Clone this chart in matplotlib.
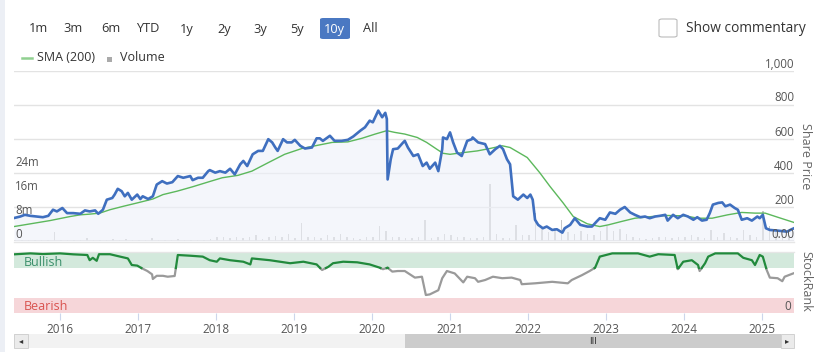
import numpy as np
import matplotlib
matplotlib.use("Agg")
import matplotlib.pyplot as plt
from matplotlib.patches import Rectangle, FancyBboxPatch
from matplotlib.lines import Line2D

plt.rcParams['font.family'] = ['Open Sans', 'DejaVu Sans']

# ---------------- data ----------------
price_years = [2015.41, 2015.49, 2015.55, 2015.62, 2015.70, 2015.78, 2015.85, 2015.91, 2015.96, 2016.03,
               2016.09, 2016.17, 2016.26, 2016.32, 2016.38, 2016.45, 2016.49, 2016.55, 2016.60, 2016.67,
               2016.70, 2016.74, 2016.79, 2016.83, 2016.87, 2016.92, 2016.99, 2017.03, 2017.06, 2017.13,
               2017.19, 2017.24, 2017.31, 2017.37, 2017.44, 2017.51, 2017.58, 2017.67, 2017.70, 2017.77,
               2017.83, 2017.90, 2017.92, 2017.99, 2018.05, 2018.12, 2018.18, 2018.24, 2018.31, 2018.35,
               2018.40, 2018.47, 2018.54, 2018.60, 2018.67, 2018.72, 2018.76, 2018.79, 2018.86, 2018.91,
               2018.97, 2019.01, 2019.08, 2019.14, 2019.23, 2019.29, 2019.33, 2019.37, 2019.46, 2019.52,
               2019.61, 2019.69, 2019.76, 2019.85, 2019.91, 2019.97, 2020.01, 2020.08, 2020.13, 2020.17,
               2020.19, 2020.20, 2020.24, 2020.27, 2020.33, 2020.40, 2020.42, 2020.46, 2020.53, 2020.59,
               2020.65, 2020.70, 2020.74, 2020.81, 2020.85, 2020.90, 2020.91, 2020.96, 2021.00, 2021.04,
               2021.09, 2021.15, 2021.22, 2021.28, 2021.29, 2021.36, 2021.45, 2021.51, 2021.58, 2021.64,
               2021.68, 2021.73, 2021.77, 2021.81, 2021.87, 2021.94, 2021.99, 2022.03, 2022.06, 2022.09,
               2022.13, 2022.19, 2022.24, 2022.31, 2022.37, 2022.44, 2022.47, 2022.54, 2022.60, 2022.67,
               2022.76, 2022.82, 2022.88, 2022.92, 2022.99, 2023.05, 2023.12, 2023.18, 2023.24, 2023.31,
               2023.37, 2023.44, 2023.50, 2023.56, 2023.63, 2023.69, 2023.76, 2023.79, 2023.86, 2023.92,
               2023.99, 2024.05, 2024.12, 2024.17, 2024.23, 2024.29, 2024.33, 2024.37, 2024.44, 2024.49,
               2024.53, 2024.59, 2024.65, 2024.69, 2024.74, 2024.81, 2024.87, 2024.94, 2024.97, 2025.01,
               2025.05, 2025.10, 2025.20, 2025.32, 2025.38, 2025.41]
price_values = [135, 144, 154, 148, 144, 140, 148, 184, 174, 194,
                164, 164, 160, 180, 174, 180, 160, 184, 243, 253,
                273, 307, 293, 263, 283, 243, 273, 247, 263, 247,
                263, 332, 352, 338, 346, 382, 372, 382, 358, 372,
                372, 411, 417, 402, 411, 402, 425, 392, 451, 471,
                441, 510, 530, 530, 599, 580, 550, 530, 599, 580,
                580, 595, 560, 544, 550, 604, 604, 589, 619, 589,
                589, 595, 615, 649, 669, 708, 698, 767, 728, 754,
                718, 362, 481, 540, 544, 580, 589, 550, 500, 510,
                441, 461, 425, 461, 411, 540, 609, 599, 639, 580,
                520, 500, 589, 599, 609, 580, 570, 510, 540, 560,
                540, 481, 451, 263, 243, 273, 253, 273, 243, 125,
                95, 75, 85, 65, 69, 49, 75, 95, 134, 95,
                85, 85, 115, 134, 125, 168, 160, 184, 200, 168,
                154, 140, 144, 134, 144, 148, 154, 120, 154, 134,
                154, 144, 125, 140, 120, 125, 164, 214, 224, 227,
                204, 214, 194, 184, 125, 134, 120, 144, 134, 154,
                75, 65, 61, 55, 69, 75]

sma_years = [2015.41, 2015.62, 2015.87, 2016.13, 2016.26, 2016.38, 2016.51, 2016.64, 2016.81, 2016.99,
             2017.19, 2017.32, 2017.50, 2017.70, 2017.92, 2018.08, 2018.28, 2018.46, 2018.67, 2018.88,
             2019.10, 2019.27, 2019.49, 2019.69, 2019.87, 2020.04, 2020.19, 2020.29, 2020.42, 2020.58,
             2020.70, 2020.83, 2020.91, 2021.00, 2021.17, 2021.35, 2021.51, 2021.67, 2021.77, 2021.99,
             2022.15, 2022.28, 2022.45, 2022.58, 2022.76, 2022.92, 2023.03, 2023.20, 2023.37, 2023.59,
             2023.79, 2024.01, 2024.18, 2024.36, 2024.56, 2024.74, 2024.91, 2025.04, 2025.20, 2025.41]
sma_values = [85, 101, 120, 144, 154, 158, 164, 184, 204, 224,
              247, 273, 293, 319, 350, 372, 386, 411, 461, 510,
              544, 560, 580, 583, 604, 629, 649, 639, 629, 609,
              580, 540, 516, 510, 520, 530, 544, 560, 550, 491,
              402, 322, 224, 144, 101, 85, 95, 115, 134, 144,
              150, 148, 134, 134, 154, 168, 164, 164, 140, 109]

# monthly volume (millions), starting Jun 2015
volume_start = 2015.42
volume_m = [0.5, 0.4, 0.3, 0.3, 0.4, 0.3, 3.0, 0.3, 0.2, 0.3,
            0.3, 1.0, 0.2, 0.3, 0.5, 0.7, 0.4, 0.6, 0.3, 0.3,
            0.2, 0.9, 0.3, 0.3, 0.4, 0.6, 0.5, 0.4, 0.3, 0.5,
            0.8, 1.2, 1.5, 1.0, 1.3, 1.0, 1.2, 2.0, 0.8, 1.5,
            1.8, 1.5, 2.3, 1.0, 6.0, 1.5, 1.2, 1.0, 2.0, 1.2,
            2.5, 1.5, 1.0, 0.8, 1.2, 1.5, 5.0, 3.5, 1.5, 1.2,
            1.0, 1.0, 1.2, 7.0, 1.0, 1.5, 2.5, 2.0, 1.5, 1.2,
            1.0, 1.0, 1.5, 19.0, 2.5, 1.0, 1.0, 5.5, 2.0, 2.0,
            9.5, 4.0, 3.0, 4.5, 7.0, 3.0, 2.5, 3.5, 2.5, 2.0,
            3.5, 5.0, 3.5, 4.0, 2.5, 1.5, 1.0, 0.8, 1.0, 1.2,
            1.5, 1.0, 1.5, 1.2, 2.0, 1.5, 1.0, 3.7, 1.5, 2.7,
            1.2, 1.0, 3.7, 2.0, 1.5, 10.0, 5.0, 3.0, 2.5, 2.0]

rank_years = [2015.41, 2015.62, 2015.78, 2016.00, 2016.17, 2016.35, 2016.38, 2016.42, 2016.47, 2016.50,
              2016.64, 2016.77, 2016.87, 2016.92, 2016.99, 2017.05, 2017.12, 2017.18, 2017.19, 2017.24,
              2017.32, 2017.38, 2017.47, 2017.51, 2017.67, 2017.83, 2017.92, 2018.01, 2018.05, 2018.18,
              2018.35, 2018.44, 2018.46, 2018.69, 2018.95, 2019.12, 2019.29, 2019.36, 2019.44, 2019.50,
              2019.63, 2019.81, 2019.97, 2020.10, 2020.14, 2020.20, 2020.26, 2020.33, 2020.42, 2020.55,
              2020.64, 2020.69, 2020.74, 2020.85, 2020.90, 2020.96, 2021.06, 2021.17, 2021.22, 2021.32,
              2021.36, 2021.45, 2021.55, 2021.67, 2021.79, 2021.90, 2021.92, 2022.09, 2022.31, 2022.51,
              2022.56, 2022.69, 2022.79, 2022.86, 2022.92, 2023.08, 2023.41, 2023.56, 2023.67, 2023.88,
              2023.92, 2023.99, 2024.10, 2024.18, 2024.20, 2024.27, 2024.31, 2024.40, 2024.69, 2024.76,
              2024.87, 2024.91, 2024.97, 2025.01, 2025.06, 2025.10, 2025.20, 2025.26, 2025.29, 2025.40]
rank_values = [97.8, 99.4, 98.3, 99.4, 97.8, 96.7, 88, 92, 87, 98,
               98, 94, 91, 80, 79, 74.5, 70, 64.5, 56.7, 62,
               62, 60.5, 61.7, 96.7, 95.5, 94, 88, 85.5, 91, 88,
               85.5, 81, 91, 88, 83, 85.5, 81, 71.7, 77, 83,
               85.5, 84.5, 81, 75.5, 73, 75.5, 69, 70, 70, 59,
               60.5, 30, 31, 38, 58, 70, 66, 51, 60.5, 58,
               52, 55, 60.5, 58, 59, 55, 48, 49.5, 52, 49.5,
               55, 63, 70, 75.5, 94, 99.4, 99.4, 94, 98, 96.7,
               73, 85.5, 88, 80, 70, 83, 94, 99.4, 99.4, 92,
               88, 80, 96.7, 94, 71.7, 59, 58, 53, 60.5, 66]

year_ticks = [2016, 2017, 2018, 2019, 2020, 2021, 2022, 2023, 2024, 2025]
price_ticks = [0, 200, 400, 600, 800, 1000]
price_tick_labels = ["0.00", "200", "400", "600", "800", "1,000"]
vol_ticks = [0, 8, 16, 24]
vol_tick_labels = ["0", "8m", "16m", "24m"]
range_buttons = ["1m", "3m", "6m", "YTD", "1y", "2y", "3y", "5y", "10y", "All"]
button_x = [38, 73, 111, 148, 187, 224, 260, 297, 334, 370]
active_button = "10y"
bull_threshold = 75

# ---------------- layout ----------------
W, H = 816, 352
fig = plt.figure(figsize=(W / 100, H / 100), dpi=100)
fig.patch.set_facecolor("white")

def fx(x):
    return x / W

def fy(y):
    return 1 - y / H

def ax_rect(x0, y0, x1, y1):
    return [fx(x0), fy(y1), fx(x1) - fx(x0), fy(y0) - fy(y1)]

XMIN, XMAX = 2015.41, 2025.41
TXT = "#555555"

# page background strip on the left
fig.add_artist(Rectangle((0, 0), fx(5), 1, transform=fig.transFigure,
                         facecolor="#eceff5", edgecolor="none", zorder=0))

# ---- main price axes
ax = fig.add_axes(ax_rect(14, 71, 794, 241))
ax.set_xlim(XMIN, XMAX)
ax.set_ylim(0, 1000)
for s in ax.spines.values():
    s.set_visible(False)
ax.set_xticks([])
ax.set_yticks([])
for t in price_ticks:
    ax.axhline(t, color="#e3e3e3", lw=1.0, zorder=1)
ax.axhline(0, color="#d8d8d8", lw=1.2, zorder=1)

# volume on twin axis
axv = ax.twinx()
axv.set_ylim(0, 56.67)
axv.set_xlim(XMIN, XMAX)
axv.axis("off")
vol_x = volume_start + np.arange(len(volume_m)) / 12.0
axv.bar(vol_x, volume_m, width=0.022, color="#c6c6c6", zorder=2, align="edge")

ax.set_zorder(axv.get_zorder() + 1)
ax.patch.set_visible(False)
ax.fill_between(price_years, price_values, 0, color="#eef1f9", alpha=0.6, zorder=2, lw=0)
ax.plot(sma_years, sma_values, color="#5cb85c", lw=1.0, zorder=3)
ax.plot(price_years, price_values, color="#3f6fbf", lw=1.9, zorder=4, solid_joinstyle="round")

# right price labels
for t, lab in zip(price_ticks, price_tick_labels):
    ypx = 241 - t * 170 / 1000
    fig.text(fx(794), fy(ypx - 7), lab, ha="right", va="center", fontsize=8.3, color=TXT)
# left volume labels
for t, lab in zip(vol_ticks, vol_tick_labels):
    ypx = 241 - t * 3
    fig.text(fx(15), fy(ypx - 7), lab, ha="left", va="center", fontsize=8.3, color=TXT)

fig.text(fx(806), fy(156), "Share Price", rotation=-90, ha="center", va="center",
         fontsize=9, color="#666666")

# ---- stockrank axes
axr = fig.add_axes(ax_rect(14, 252, 794, 313))
axr.set_xlim(XMIN, XMAX)
axr.set_ylim(0, 101.7)
for s in axr.spines.values():
    s.set_visible(False)
axr.axhspan(75, 100, color="#d3e9dc", lw=0, zorder=1)
axr.axhspan(0, 25, color="#f6d6d9", lw=0, zorder=1)
axr.axhline(101.7, color="#e6e6e6", lw=1.0, zorder=1, clip_on=False)
axr.set_yticks([])
axr.set_xticks(year_ticks)
axr.set_xticklabels([str(y) for y in year_ticks])
axr.tick_params(axis="x", direction="out", length=5, width=0.8, color="#ccd6eb",
                labelsize=8.5, labelcolor=TXT, pad=2)

# split the rank line at the threshold
rx, ry = [rank_years[0]], [rank_values[0]]
for i in range(1, len(rank_years)):
    x0, y0, x1, y1 = rank_years[i - 1], rank_values[i - 1], rank_years[i], rank_values[i]
    if (y0 - bull_threshold) * (y1 - bull_threshold) < 0:
        xc = x0 + (bull_threshold - y0) * (x1 - x0) / (y1 - y0)
        rx.append(xc)
        ry.append(bull_threshold)
    rx.append(x1)
    ry.append(y1)
rx = np.array(rx)
ry = np.array(ry)
green = np.ma.masked_where(ry < bull_threshold - 1e-9, ry)
grey = np.ma.masked_where(ry > bull_threshold + 1e-9, ry)
axr.plot(rx, grey, color="#9a9a9a", lw=1.6, zorder=3)
axr.plot(rx, green, color="#218a3c", lw=1.6, zorder=4)

fig.text(fx(24), fy(262), "Bullish", ha="left", va="center", fontsize=9, color="#3a8f6a")
fig.text(fx(24), fy(307), "Bearish", ha="left", va="center", fontsize=9, color="#d9534f")
fig.text(fx(791), fy(307), "0", ha="right", va="center", fontsize=8.5, color=TXT)
fig.text(fx(806), fy(281), "StockRank", rotation=-90, ha="center", va="center",
         fontsize=9, color="#666666")

# separator line under main panel
fig.add_artist(Line2D([fx(14), fx(794)], [fy(242), fy(242)], transform=fig.transFigure,
                      color="#e6e6e6", lw=1.0))

# ---- scrollbar
fig.add_artist(Rectangle((fx(14), fy(348)), fx(794) - fx(14), fy(334) - fy(348),
                         transform=fig.transFigure, facecolor="#f2f2f2", edgecolor="none"))
fig.add_artist(Rectangle((fx(405), fy(348)), fx(781) - fx(405), fy(334) - fy(348),
                         transform=fig.transFigure, facecolor="#cccccc", edgecolor="none"))
fig.add_artist(Rectangle((fx(14), fy(348)), fx(28) - fx(14), fy(334) - fy(348),
                         transform=fig.transFigure, facecolor="#ebebeb", edgecolor="#cccccc", lw=0.6))
fig.add_artist(Rectangle((fx(781), fy(348)), fx(794) - fx(781), fy(334) - fy(348),
                         transform=fig.transFigure, facecolor="#ebebeb", edgecolor="#cccccc", lw=0.6))
fig.text(fx(21), fy(341), "\u25c2", ha="center", va="center", fontsize=6, color="#333333",
         family=["DejaVu Sans"])
fig.text(fx(787.5), fy(341), "\u25b8", ha="center", va="center", fontsize=6, color="#333333",
         family=["DejaVu Sans"])
fig.text(fx(593), fy(341), "III", ha="center", va="center", fontsize=6.5, color="#333333",
         family=["DejaVu Sans"])

# ---- header buttons
for lab, bx in zip(range_buttons, button_x):
    if lab == active_button:
        fig.add_artist(FancyBboxPatch((fx(320), fy(39)), fx(350) - fx(320), fy(18) - fy(39),
                                      boxstyle="round,pad=0,rounding_size=0.004",
                                      transform=fig.transFigure, facecolor="#4a78c2",
                                      edgecolor="none"))
        fig.text(fx(bx), fy(29), lab, ha="center", va="center", fontsize=9.2, color="white")
    else:
        fig.text(fx(bx), fy(29), lab, ha="center", va="center", fontsize=9.2, color="#333333")

# checkbox
fig.add_artist(FancyBboxPatch((fx(659), fy(37)), fx(677) - fx(659), fy(19) - fy(37),
                              boxstyle="round,pad=0,rounding_size=0.004",
                              transform=fig.transFigure, facecolor="white",
                              edgecolor="#bbbbbb", lw=0.8))
fig.text(fx(686), fy(28), "Show commentary", ha="left", va="center", fontsize=9.9, color="#333333")

# legend
fig.add_artist(Line2D([fx(22), fx(32)], [fy(58), fy(58)], transform=fig.transFigure,
                      color="#90d090", lw=1.8))
fig.text(fx(37), fy(57.5), "SMA (200)", ha="left", va="center", fontsize=9, color="#333333")
fig.add_artist(Rectangle((fx(107), fy(62)), fx(112) - fx(107), fy(57) - fy(62),
                         transform=fig.transFigure, facecolor="#aaaaaa", edgecolor="none"))
fig.text(fx(120), fy(57.5), "Volume", ha="left", va="center", fontsize=9, color="#333333")

fig.savefig("out.png", dpi=100)
